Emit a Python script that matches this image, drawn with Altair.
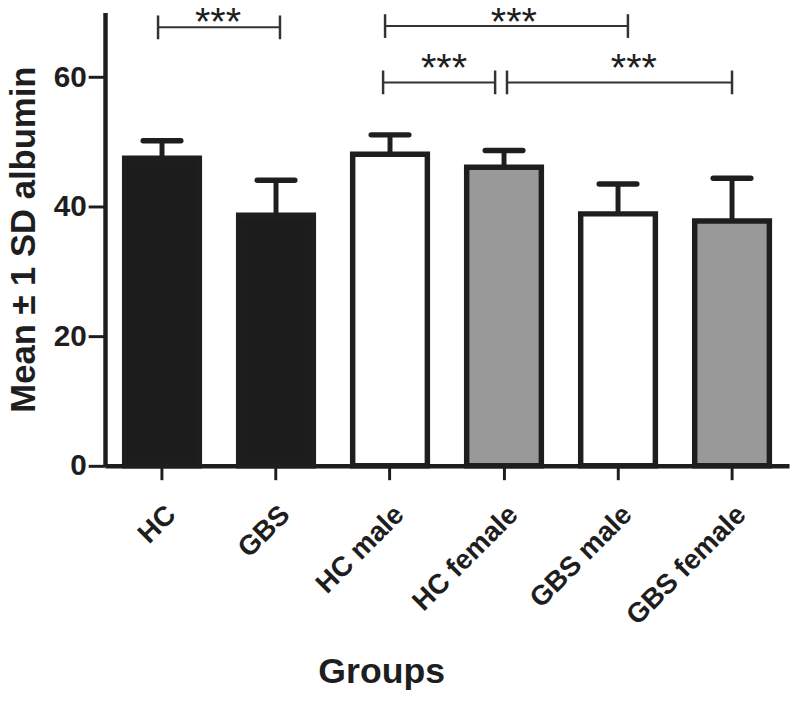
import altair as alt
import pandas as pd

# ---- data ----
groups = ["HC", "GBS", "HC male", "HC female", "GBS male", "GBS female"]
means = [47.5, 38.7, 48.1, 46.1, 38.9, 37.8]
sds = [2.7, 5.4, 3.0, 2.6, 4.6, 6.6]
fills = ["#1c1c1c", "#1c1c1c", "#ffffff", "#999999", "#ffffff", "#999999"]

cmp_start = ["HC", "HC male", "HC male", "HC female"]
cmp_end = ["GBS", "GBS male", "HC female", "GBS female"]
cmp_level = [67.7, 67.9, 59.2, 59.2]
cmp_label = ["***", "***", "***", "***"]

# ---- styling ----
FONT = "Liberation Sans"
INK = "#1e1e1e"
# pixel nudges of bracket ends and stars (style only)
left_nudge = [-4, -5, -7, 3]
right_nudge = [4, 10, -9, 0]
star_dx = [-1, 10, -3, 16]
star_dy = [8, 9, -1, -1]

df = pd.DataFrame({"group": groups, "mean": means, "sd": sds, "fill": fills})
df["idx"] = range(len(groups))
df["upper"] = df["mean"] + df["sd"]

yscale = alt.Scale(domain=[0, 70], nice=False, zero=True)
xq_scale = alt.Scale(domain=[-0.5, len(groups) - 0.5], nice=False, zero=False)
YTITLE = "Mean ± 1 SD albumin"
yaxis = alt.Axis(
    values=[0, 20, 40, 60],
    labelFont=FONT,
    labelFontSize=30,
    labelFontWeight="bold",
    labelColor=INK,
    labelPadding=2,
    domainColor=INK,
    domainWidth=4.5,
    tickColor=INK,
    tickWidth=3,
    tickSize=17,
    titleFont=FONT,
    titleFontSize=35,
    titleFontWeight="bold",
    titleColor=INK,
    titleAngle=-90,
    titleX=-71,
    titleY=229,
    titleAlign="center",
    titleBaseline="alphabetic",
    grid=False,
)


def ypos(field):
    return alt.Y(field, scale=yscale, axis=yaxis, title=YTITLE)


bars = alt.Chart(df).mark_bar(stroke=INK, strokeWidth=5.5).encode(
    x=alt.X(
        "group:N",
        sort=groups,
        scale=alt.Scale(paddingInner=0.345, paddingOuter=0.1725),
        title="Groups",
        axis=alt.Axis(
            labelAngle=-45,
            labelAlign="right",
            labelBaseline="top",
            labelPadding=21,
            labelOffset=0,
            labelFont=FONT,
            labelFontSize=28,
            labelFontWeight="bold",
            labelColor=INK,
            labelLimit=400,
            domainColor=INK,
            domainWidth=4.5,
            tickColor=INK,
            tickWidth=3,
            tickSize=14,
            titleFont=FONT,
            titleFontSize=36,
            titleFontWeight="bold",
            titleColor=INK,
            titleX=279,
            titleY=219,
            titleAlign="center",
            titleBaseline="alphabetic",
            grid=False,
        ),
    ),
    y=ypos("mean:Q"),
    fill=alt.Fill("fill:N", scale=None),
)

xq = alt.X("idx:Q", scale=xq_scale, axis=None)

stems = alt.Chart(df).mark_rule(color=INK, strokeWidth=5).encode(
    x=xq, y=ypos("mean:Q"), y2="upper:Q"
)
caps = alt.Chart(df).mark_rule(
    color=INK, strokeWidth=5.5, strokeCap="round", xOffset=-19, x2Offset=19
).encode(x=xq, x2="idx:Q", y=ypos("upper:Q"))

layers = [bars, stems, caps]
for i in range(len(cmp_start)):
    s = groups.index(cmp_start[i])
    e = groups.index(cmp_end[i])
    bdf = pd.DataFrame(
        {"s": [s], "e": [e], "m": [(s + e) / 2], "lvl": [cmp_level[i]], "lab": [cmp_label[i]]}
    )
    base = alt.Chart(bdf)
    yl = ypos("lvl:Q")
    hline = base.mark_rule(
        color="#333333", strokeWidth=2, xOffset=left_nudge[i], x2Offset=right_nudge[i]
    ).encode(x=alt.X("s:Q", scale=xq_scale, axis=None), x2="e:Q", y=yl)
    ltick = base.mark_rule(
        color="#333333", strokeWidth=2.5, xOffset=left_nudge[i], yOffset=-12, y2Offset=12
    ).encode(x=alt.X("s:Q", scale=xq_scale, axis=None), y=yl, y2="lvl:Q")
    rtick = base.mark_rule(
        color="#333333", strokeWidth=2.5, xOffset=right_nudge[i], yOffset=-12, y2Offset=12
    ).encode(x=alt.X("e:Q", scale=xq_scale, axis=None), y=yl, y2="lvl:Q")
    stars = base.mark_text(
        font=FONT, fontSize=40, color=INK, baseline="alphabetic", dy=star_dy[i], dx=star_dx[i]
    ).encode(x=alt.X("m:Q", scale=xq_scale, axis=None), y=yl, text="lab:N")
    layers += [hline, ltick, rtick, stars]

chart = (
    alt.layer(*layers)
    .resolve_scale(x="independent")
    .properties(
        width=691,
        height=458,
        autosize=alt.AutoSizeParams(type="none"),
        padding={"left": 98, "top": 1, "right": 3, "bottom": 227},
        background="white",
    )
    .configure_view(stroke=None)
)

chart.save("out.html", embed_options={"renderer": "svg", "actions": False})
